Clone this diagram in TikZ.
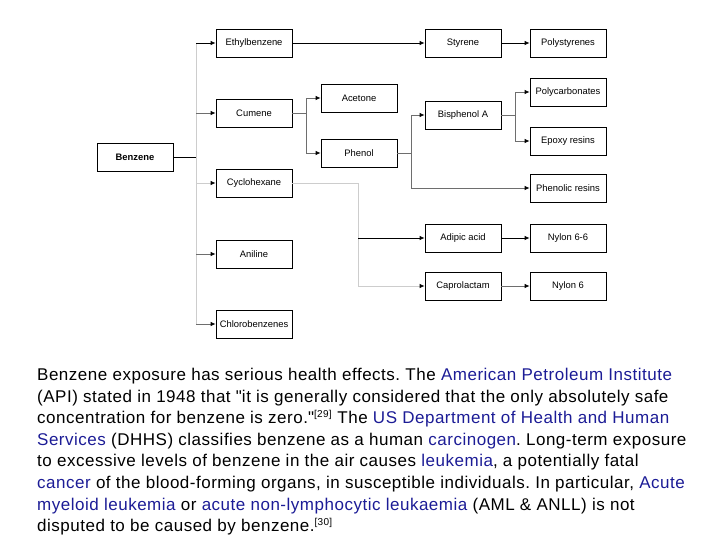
\documentclass[tikz,border=0pt]{standalone}
\usepackage{fontspec}
\setmainfont{Liberation Sans}
\usetikzlibrary{arrows.meta}
\definecolor{linkblue}{RGB}{28,28,150}
\definecolor{lgray}{RGB}{205,205,205}
\definecolor{mgray}{RGB}{110,110,110}
\newcommand{\lnk}[1]{\textcolor{linkblue}{#1}}
\newcommand{\refnum}[1]{\textsuperscript{\fontsize{10}{10}\selectfont[#1]}}
\frenchspacing
\begin{document}
\begin{tikzpicture}[x=1pt,y=-1pt,
  chem/.style={draw, rectangle, line width=0.8pt, minimum width=76pt, minimum height=28pt,
    inner sep=0pt, font=\fontsize{9.4}{10}\selectfont},
  arr/.style={-{Latex[length=5pt,width=4.5pt,black]}, line width=0.8pt},
  line/.style={line width=0.8pt}]
\useasboundingbox (0,0) rectangle (720,540);
% first column
\node[chem, font=\fontsize{9.4}{10}\selectfont\bfseries] (benzene) at (135,157) {Benzene};
\node[chem] (ethyl) at (254,43) {Ethylbenzene};
\node[chem] (cumene) at (254,113) {Cumene};
\node[chem] (cyclo) at (254,183) {Cyclohexane};
\node[chem] (aniline) at (254,254) {Aniline};
\node[chem] (chloro) at (254,324) {Chlorobenzenes};
% second column
\node[chem] (acetone) at (359,98) {Acetone};
\node[chem] (phenol) at (359,153) {Phenol};
% third column
\node[chem] (styrene) at (463,43) {Styrene};
\node[chem] (bisphenol) at (463,115) {Bisphenol A};
\node[chem] (adipic) at (463,238) {Adipic acid};
\node[chem] (caprolactam) at (463,286) {Caprolactam};
% last column
\node[chem] (polystyrene) at (568,43) {Polystyrenes};
\node[chem] (polycarb) at (568,92) {Polycarbonates};
\node[chem] (epoxy) at (568,141) {Epoxy resins};
\node[chem] (phenolic) at (568,188) {Phenolic resins};
\node[chem] (nylon66) at (568,238) {Nylon 6-6};
\node[chem] (nylon6) at (568,286) {Nylon 6};
% branch points
\coordinate (bz-split) at (196,157);
\coordinate (cu-split) at (306,113);
\coordinate (ph-split) at (411,153);
\coordinate (bp-split) at (515,115);
\coordinate (cy-split) at (358,183);
% benzene
\draw[line] (benzene) -- (bz-split);
\draw[line, lgray] (ethyl -| bz-split) -- (chloro -| bz-split);
\draw[arr] (ethyl -| bz-split) -- (ethyl);
\draw[arr, mgray] (cumene -| bz-split) -- (cumene);
\draw[arr, lgray] (cyclo -| bz-split) -- (cyclo);
\draw[arr, mgray] (aniline -| bz-split) -- (aniline);
\draw[arr, mgray] (chloro -| bz-split) -- (chloro);
% ethylbenzene
\draw[arr] (ethyl) -- (styrene);
\draw[arr] (styrene) -- (polystyrene);
% cumene
\draw[line, mgray] (cumene) -- (cu-split);
\draw[arr, mgray] (cu-split) |- (acetone);
\draw[arr, mgray] (cu-split) |- (phenol);
% phenol
\draw[line, mgray] (phenol) -- (ph-split);
\draw[arr, mgray] (ph-split) |- (bisphenol);
\draw[arr, mgray] (ph-split) |- (phenolic);
% bisphenol A
\draw[line, mgray] (bisphenol) -- (bp-split);
\draw[arr, mgray] (bp-split) |- (polycarb);
\draw[arr, mgray] (bp-split) |- (epoxy);
% cyclohexane
\draw[line, lgray] (cyclo) -- (cy-split) -- (caprolactam -| cy-split);
\draw[arr] (adipic -| cy-split) -- (adipic);
\draw[arr, lgray] (caprolactam -| cy-split) -- (caprolactam);
\draw[arr] (adipic) -- (nylon66);
\draw[arr, mgray] (caprolactam) -- (nylon6);
% text below
\node[anchor=north west, inner sep=0pt, align=left,
  font=\fontsize{17}{21.6}\selectfont\addfontfeature{LetterSpace=3}] (health) at (37,368) {%
Benzene exposure has serious health effects. The \lnk{American Petroleum Institute}\\
(API) stated in 1948 that \textquotedbl it is generally considered that the only absolutely safe\\
concentration for benzene is zero.\textquotedbl\refnum{29} The \lnk{US Department of Health and Human}\\
\lnk{Services} (DHHS) classifies benzene as a human \lnk{carcinogen}. Long-term exposure\\
to excessive levels of benzene in the air causes \lnk{leukemia}, a potentially fatal\\
\lnk{cancer} of the blood-forming organs, in susceptible individuals. In particular, \lnk{Acute}\\
\lnk{myeloid leukemia} or \lnk{acute non-lymphocytic leukaemia} (AML \& ANLL) is not\\
disputed to be caused by benzene.\refnum{30}};
\end{tikzpicture}
\end{document}
